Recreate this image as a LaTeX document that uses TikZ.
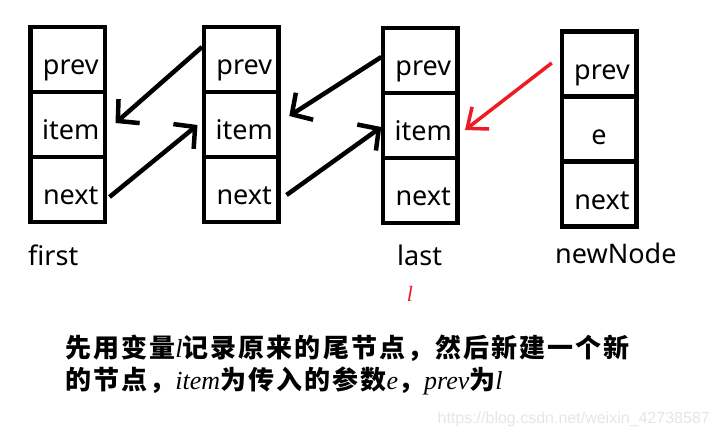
\documentclass[tikz,border=0pt]{standalone}
\usepackage{fontspec}
\setmainfont{Noto Sans}
\newfontfamily\cjk[LetterSpace=8]{Noto Sans CJK SC}
\newfontfamily\tms{Liberation Serif}
\newfontfamily\wmfont{Liberation Sans}
\usetikzlibrary{arrows.meta}
\definecolor{pred}{RGB}{237,28,36}
\definecolor{wmgray}{RGB}{230,230,230}
\begin{document}
\begin{tikzpicture}[x=1pt,y=-1pt,
  cell/.style={draw,line width=4.5pt,minimum width=74.5pt,minimum height=65pt,
    inner sep=0pt,outer sep=0pt,text height=30pt,text depth=0pt,
    font=\fontsize{27}{32}\selectfont},
  lbl/.style={anchor=base west,inner sep=0pt,font=\fontsize{27}{32}\selectfont},
  arr/.style={line width=4.5pt,-{Straight Barb[length=15pt,width=32pt]}},
  rarr/.style={draw=pred,line width=3.5pt,-{Straight Barb[length=17pt,width=28pt]}},
  captext/.style={anchor=base west,inner sep=0pt,font=\fontsize{26}{30}\selectfont}]
\path[fill=white,use as bounding box] (0,0) rectangle (720,437);
% box 1
\node[cell] (b1p) at (67.75,59.5) {\hspace*{6pt}prev};
\node[cell] (b1i) at (67.75,124.5) {\hspace*{6pt}item};
\node[cell] (b1n) at (67.75,189.5) {\hspace*{6pt}next};
% box 2
\node[cell] (b2p) at (241.25,59.5) {\hspace*{6pt}prev};
\node[cell] (b2i) at (241.25,124.5) {\hspace*{6pt}item};
\node[cell] (b2n) at (241.25,189.5) {\hspace*{6pt}next};
% box 3
\node[cell] (b3p) at (420.25,60.5) {\hspace*{6pt}prev};
\node[cell] (b3i) at (420.25,125.5) {\hspace*{6pt}item};
\node[cell] (b3n) at (420.25,190.5) {\hspace*{6pt}next};
% box 4
\node[cell] (b4p) at (599,64) {\hspace*{6pt}prev};
\node[cell] (b4e) at (599,129) {e};
\node[cell] (b4n) at (599,194) {\hspace*{6pt}next};
% labels
\node[lbl] (lfirst) at (28,265) {first};
\node[lbl] (llast) at (397,265) {last};
\node[lbl] (lnew) at (555,263) {newNode};
\node[anchor=base,inner sep=0pt,text=pred,font=\tms\itshape\fontsize{22}{26}\selectfont] (lred) at (410,301) {l};
% arrows
\draw[arr] ([xshift=-2pt,yshift=12.5pt]b2p.west) -- ([xshift=10.5pt,yshift=1.5pt]b1i.east);
\draw[arr] ([xshift=4.5pt,yshift=-7.5pt]b1n.east) -- ([xshift=-6.5pt,yshift=-0.5pt]b2i.west);
\draw[arr] ([xshift=-1.7pt,yshift=3.5pt]b3p.west) -- ([xshift=10.8pt,yshift=8.5pt]b2i.east);
\draw[arr] ([xshift=8pt,yshift=-5.5pt]b2n.east) -- ([xshift=-1.7pt,yshift=-1.5pt]b3i.west);
\draw[rarr] ([xshift=-10pt,yshift=1pt]b4p.west) -- ([xshift=7.5pt,yshift=-4.5pt]b3i.east);
% caption
\node[captext] (t1) at (65,357) {{\cjk\bfseries 先用变量}{\tms\itshape l}{\cjk\bfseries 记录原来的尾节点，然后新建一个新}};
\node[captext] (t2) at (65,389) {{\cjk\bfseries 的节点，}{\tms\itshape item}{\cjk\bfseries 为传入的参数}{\tms\itshape e}{\cjk\bfseries ，}{\tms\itshape prev}{\cjk\bfseries 为}{\tms\itshape l}};
% watermark
\node[anchor=base east,inner sep=0pt,text=wmgray,font=\wmfont\fontsize{16}{19}\selectfont] (wm) at (710,423) {https://blog.csdn.net/weixin\_42738587};
\end{tikzpicture}
\end{document}
